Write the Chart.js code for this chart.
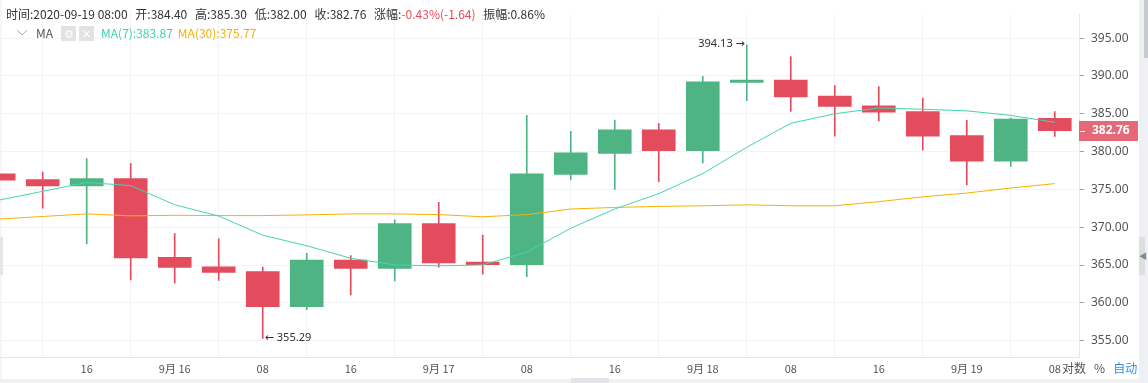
<!DOCTYPE html>
<html>
<head>
<meta charset="utf-8">
<script src="https://cdn.jsdelivr.net/npm/chart.js@4.4.0/dist/chart.umd.min.js"></script>
<style>
html,body{margin:0;padding:0;background:#fff;width:1148px;height:383px;overflow:hidden;font-family:"Noto Sans CJK SC","Noto Sans",sans-serif;}
#wrap{position:absolute;left:0;top:0;width:1139px;height:379px;}
#hdr{position:absolute;left:6px;top:5px;font-size:12px;color:#333;white-space:nowrap;line-height:18px;}
#hdr span{margin-right:5px;}
#row2{position:absolute;left:16px;top:24px;font-size:12px;color:#555;white-space:nowrap;line-height:18px;display:flex;align-items:center;}
.ico{display:inline-block;width:15px;height:15px;background:#e2e2e4;color:#fff;font-size:11px;line-height:15px;text-align:center;margin-right:3px;}
#bottomband{position:absolute;left:0;top:379px;width:1148px;height:4px;background:#eff1f4;}
#btab{position:absolute;left:571px;top:378px;width:38px;height:5px;background:#e1e3e7;}
#rstrip{position:absolute;left:1139px;top:0;width:9px;height:383px;background:#eef0f3;}
#rthumb{position:absolute;left:1144px;top:0;width:4px;height:58px;background:#c6c9ce;}
#rtab{position:absolute;left:1139px;top:237px;width:6px;height:38px;background:#dcdee2;color:#888;font-size:8px;line-height:38px;}
#ltab{position:absolute;left:0;top:237px;width:3px;height:38px;background:#e4e6ea;}
#lstrip{position:absolute;left:0;top:0;width:2px;height:379px;background:#f6f7f9;}
#foot{position:absolute;top:360px;left:1062px;font-size:12px;color:#555;white-space:nowrap;line-height:16px;}
</style>
</head>
<body>
<div id="lstrip"></div>
<div id="wrap"><canvas id="c"></canvas></div>
<div id="hdr"><span>时间:2020-09-19 08:00</span> <span>开:384.40</span> <span>高:385.30</span> <span>低:382.00</span> <span>收:382.76</span> <span>涨幅:<b style="font-weight:normal;color:#e34c5c">-0.43%(-1.64)</b></span> <span>振幅:0.86%</span></div>
<div id="row2">
  <svg width="12" height="8" style="margin-right:8px"><polyline points="1,1 6,6 11,1" fill="none" stroke="#aaa" stroke-width="1"/></svg>
  <span style="margin-right:8px">MA</span>
  <span class="ico">⚙</span><span class="ico" style="margin-right:7px">✕</span>
  <span style="color:#3fd1ad;margin-right:5px">MA(7):383.87</span>
  <span style="color:#f5b301">MA(30):375.77</span>
</div>
<div id="foot">对数 &nbsp; % &nbsp; <span style="color:#2d8cf0">自动</span></div>
<div id="bottomband"></div>
<div id="btab"></div>
<div id="rstrip"></div>
<div id="rthumb"></div>
<div id="rtab">◀</div>
<div id="ltab"></div>
<script>
// ---- data (4-hour candles, 2020-09-15 08:00 .. 2020-09-19 08:00) ----
const categories = ["09-15 08:00","09-15 12:00","09-15 16:00","09-15 20:00","09-16 00:00","09-16 04:00","09-16 08:00","09-16 12:00","09-16 16:00","09-16 20:00","09-17 00:00","09-17 04:00","09-17 08:00","09-17 12:00","09-17 16:00","09-17 20:00","09-18 00:00","09-18 04:00","09-18 08:00","09-18 12:00","09-18 16:00","09-18 20:00","09-19 00:00","09-19 04:00","09-19 08:00"];
const opens  = [377.06,376.30,375.45,376.43,366.03,364.76,364.13,359.48,365.65,364.55,370.47,365.40,365.05,376.97,379.76,382.89,380.14,389.14,389.45,387.33,386.06,385.30,382.13,378.75,384.40];
const highs  = [377.40,377.28,379.09,378.45,369.16,368.48,364.72,366.54,366.25,370.97,373.30,368.95,384.79,382.68,384.16,383.74,389.95,394.13,392.57,388.72,388.60,387.08,384.12,384.45,385.30];
const lows   = [375.90,372.53,367.80,363.03,362.61,362.95,355.29,359.10,361.05,362.90,364.72,363.79,363.46,376.30,374.99,376.01,378.49,386.73,385.30,382.04,384.07,380.19,375.58,378.04,382.00];
const closes = [376.21,375.45,376.43,365.94,364.67,364.04,359.48,365.65,364.55,370.47,365.27,365.05,377.06,379.85,382.89,380.14,389.23,389.45,387.24,385.97,385.21,382.04,378.75,384.29,382.76];
const ma7    = [373.58,374.75,375.92,375.50,372.97,371.48,368.95,367.55,365.90,365.02,364.89,365.02,366.70,369.87,372.41,374.44,377.10,380.57,383.74,385.01,385.77,385.60,385.39,384.79,383.87];
const ma30   = [371.08,371.42,371.76,371.50,371.58,371.54,371.54,371.63,371.76,371.76,371.67,371.38,371.67,372.41,372.62,372.75,372.84,372.96,372.84,372.84,373.38,374.02,374.52,375.19,375.77];
const xTickIndex  = [2,4,6,8,10,12,14,16,18,20,22,24];
const xTickLabels = ["16","9月 16","08","16","9月 17","08","16","9月 18","08","16","9月 19","08"];
const yTickValues = [355,360,365,370,375,380,385,390,395];

const UP = '#4fb484', DOWN = '#e34c5c';
const candleColors = opens.map((o,i)=> closes[i] >= o ? UP : DOWN);

const bodies = opens.map((o,i)=>({x:i, y:[o, closes[i]]}));
const wicks  = lows.map((l,i)=>({x:i, y:[l, highs[i]]}));

const extremes = {
  id:'extremes',
  afterDatasetsDraw(chart){
    const {ctx, scales:{x,y}} = chart;
    let hi = 0, lo = 0;
    highs.forEach((v,i)=>{ if (v > highs[hi]) hi = i; });
    lows.forEach((v,i)=>{ if (v < lows[lo]) lo = i; });
    ctx.save();
    ctx.font = '11px "Noto Sans","DejaVu Sans",sans-serif';
    ctx.fillStyle = '#333';
    ctx.textBaseline = 'middle';
    ctx.textAlign = 'right';
    ctx.fillText(highs[hi].toFixed(2) + ' →', x.getPixelForValue(hi) - 2, y.getPixelForValue(highs[hi]) - 1);
    ctx.textAlign = 'left';
    ctx.fillText('← ' + lows[lo].toFixed(2), x.getPixelForValue(lo) + 2, y.getPixelForValue(lows[lo]) - 1);
    ctx.restore();
  },
  afterDraw(chart){
    const {ctx, chartArea, scales:{y}} = chart;
    const last = closes[closes.length-1];
    const py = y.getPixelForValue(last);
    ctx.save();
    ctx.fillStyle = '#e6697a';
    ctx.fillRect(chartArea.right, Math.round(py) - 10, 59, 20);
    ctx.strokeStyle = '#fff';
    ctx.lineWidth = 1;
    ctx.beginPath(); ctx.moveTo(chartArea.right+1, Math.round(py)+0.5); ctx.lineTo(chartArea.right+6, Math.round(py)+0.5); ctx.stroke();
    ctx.fillStyle = '#fff';
    ctx.font = 'bold 12px "Noto Sans",sans-serif';
    ctx.textBaseline = 'middle';
    ctx.textAlign = 'left';
    ctx.fillText(last.toFixed(2), chartArea.right + 13, Math.round(py));
    ctx.restore();
  }
};

new Chart(document.getElementById('c'), {
  type: 'bar',
  data: {
    datasets: [
      { type:'line', label:'MA7', data: ma7.map((v,i)=>({x:i,y:v})), borderColor:'#45d4b0', borderWidth:1, pointRadius:0, tension:0, order:0 },
      { type:'line', label:'MA30', data: ma30.map((v,i)=>({x:i,y:v})), borderColor:'#f5b301', borderWidth:1, pointRadius:0, tension:0, order:0 },
      { label:'body', data: bodies, backgroundColor: candleColors, barThickness: 33, grouped:false, borderWidth:0, minBarLength:2, order:1 },
      { label:'wick', data: wicks, backgroundColor: candleColors, barThickness: 1, grouped:false, borderWidth:0, order:2 }
    ]
  },
  options: {
    responsive: true,
    maintainAspectRatio: false,
    animation: false,
    layout: { padding: 0 },
    plugins: { legend:{display:false}, tooltip:{enabled:false} },
    scales: {
      x: {
        type: 'linear',
        position: 'bottom',
        min: 0.0295, max: 24.55,
        offset: false,
        grid: { color:'#f2f3f6', drawTicks:false },
        border: { color:'#e4e7eb' },
        afterBuildTicks: s => { s.ticks = xTickIndex.map(v=>({value:v})); },
        afterFit: s => { s.height = 22; },
        ticks: {
          autoSkip:false, maxRotation:0, padding:5,
          color:'#555', font:{ size:11, family:'"Noto Sans CJK SC","Noto Sans",sans-serif' },
          callback: v => { const k = xTickIndex.indexOf(v); return k >= 0 ? xTickLabels[k] : ''; }
        }
      },
      y: {
        position: 'right',
        min: 352.84, max: 398.17,
        grid: { color:'#f2f3f6', tickLength:5, tickColor:'#9aa0a6' },
        border: { color:'#e4e7eb' },
        afterBuildTicks: s => { s.ticks = yTickValues.map(v=>({value:v})); },
        afterFit: s => { s.width = 60; },
        ticks: {
          padding: 7, color:'#555', font:{ size:12, family:'"Noto Sans",sans-serif' },
          callback: v => Number(v).toFixed(2)
        }
      }
    }
  },
  plugins: [extremes]
});
</script>
</body>
</html>
